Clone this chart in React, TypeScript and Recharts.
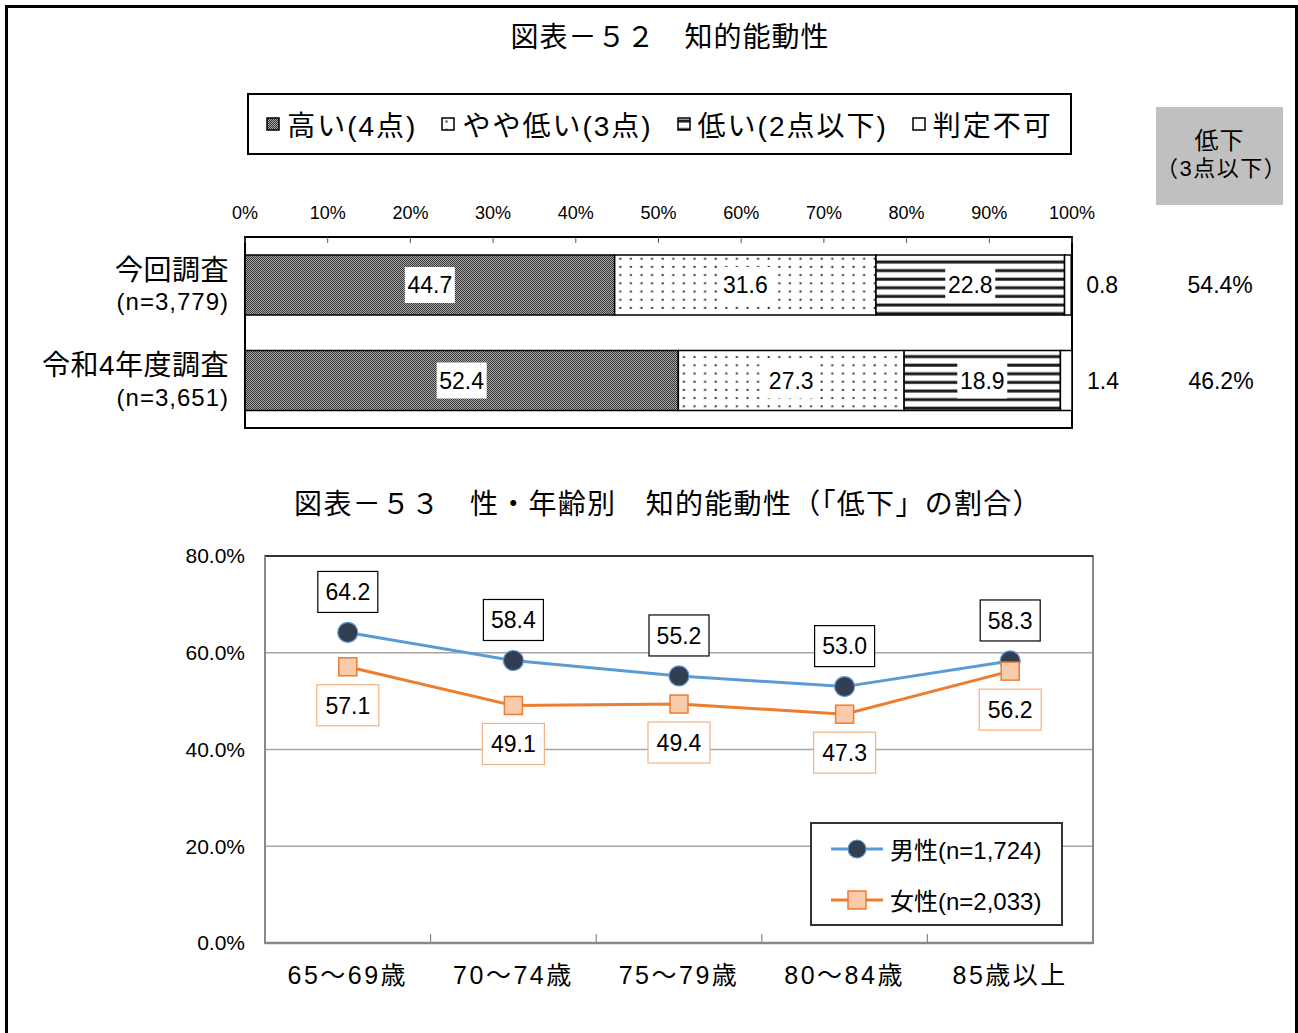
import React from 'react';
import {
  BarChart,
  Bar,
  XAxis,
  YAxis,
  LabelList,
  ReferenceArea,
  ReferenceLine,
  Legend,
  LineChart,
  Line,
  CartesianGrid,
} from 'recharts';

const FONT = "'Liberation Sans', 'Noto Sans CJK JP', sans-serif";

// ---------- Top chart data (図表－52) ----------
const surveyNames = ['今回調査', '令和4年度調査'];
const surveySizes = ['(n=3,779)', '(n=3,651)'];
const highValues = [44.7, 52.4];
const slightlyLowValues = [31.6, 27.3];
const lowValues = [22.8, 18.9];
const undeterminedValues = [0.8, 1.4];
const declineRates = [54.4, 46.2];
const percentTicks = [0, 10, 20, 30, 40, 50, 60, 70, 80, 90, 100];
const surveyLegendLabels = ['高い(4点)', 'やや低い(3点)', '低い(2点以下)', '判定不可'];
const surveyPatterns = ['url(#pat-high)', 'url(#pat-dots)', 'url(#pat-stripes)', '#ffffff'];

// ---------- Bottom chart data (図表－53) ----------
const ageGroups = ['65～69歳', '70～74歳', '75～79歳', '80～84歳', '85歳以上'];
const maleRates = [64.2, 58.4, 55.2, 53.0, 58.3];
const femaleRates = [57.1, 49.1, 49.4, 47.3, 56.2];
const rateTicks = [0, 20, 40, 60, 80];
const lineLegendLabels = ['男性(n=1,724)', '女性(n=2,033)'];

const surveyData = surveyNames.map((name, i) => ({
  name,
  high: highValues[i],
  slightlyLow: slightlyLowValues[i],
  low: lowValues[i],
  undetermined: undeterminedValues[i],
}));

const ageData = ageGroups.map((age, i) => ({
  age,
  male: maleRates[i],
  female: femaleRates[i],
}));

const MALE_LINE = '#5b9bd5';
const MALE_DOT = '#333f50';
const FEMALE_LINE = '#ed7d31';
const FEMALE_DOT = '#f8cbad';

// bottom chart layout
const LC_WIDTH = 1298;
const LC_MARGIN = { top: 96, right: 205, bottom: 40, left: 0 };
const LC_YAXIS_WIDTH = 265;
const LC_HALF_BAND = (LC_WIDTH - LC_MARGIN.right - LC_MARGIN.left - LC_YAXIS_WIDTH) / ageGroups.length / 2;

// ---------- Top chart pieces ----------
const BoxLabel = (props: any) => {
  const { x, y, width, height, value } = props;
  const cx = x + width / 2;
  const cy = y + height / 2;
  return (
    <g>
      <rect x={cx - 25} y={cy - 18} width={50} height={36} fill="#fff" />
      <text x={cx} y={cy} dy="0.36em" textAnchor="middle" fontSize={23} fill="#000">
        {Number(value).toFixed(1)}
      </text>
    </g>
  );
};

const OuterLabel = (props: any) => {
  const { x, y, width, height, value, index } = props;
  const cy = y + height / 2;
  const end = x + width;
  return (
    <g>
      <text x={end + 15} y={cy} dy="0.36em" textAnchor="start" fontSize={23} fill="#000">
        {Number(value).toFixed(1)}
      </text>
      <text x={end + 149} y={cy} dy="0.36em" textAnchor="middle" fontSize={23} fill="#000">
        {declineRates[index].toFixed(1)}%
      </text>
    </g>
  );
};

const SurveyTick = (props: any) => {
  const { x, y, payload, index } = props;
  return (
    <g>
      <text x={x} y={y - 15} dy="0.36em" textAnchor="end" fontSize={28} fill="#000" letterSpacing={0.5}>
        {payload.value}
      </text>
      <text x={x} y={y + 17} dy="0.36em" textAnchor="end" fontSize={24} fill="#000" letterSpacing={1}>
        {surveySizes[index]}
      </text>
    </g>
  );
};

const SurveyLegend = () => (
  <div
    style={{
      width: '100%',
      height: '100%',
      border: '2px solid #000',
      boxSizing: 'border-box',
      display: 'flex',
      alignItems: 'center',
      justifyContent: 'center',
      gap: 24,
      fontSize: 28,
      color: '#000',
    }}
  >
    {surveyLegendLabels.map((label, i) => (
      <div key={label} style={{ display: 'flex', alignItems: 'center' }}>
        <svg width={14} height={14} style={{ marginRight: 7 }}>
          <rect x={1} y={1} width={12} height={12} fill={surveyPatterns[i]} stroke="#000" strokeWidth={1.5} />
        </svg>
        <span style={{ letterSpacing: 2 }}>{label}</span>
      </div>
    ))}
  </div>
);

// ---------- Bottom chart pieces ----------
const MaleDot = (props: any) => {
  const { cx, cy } = props;
  return <circle cx={cx} cy={cy} r={10} fill={MALE_DOT} stroke={MALE_LINE} strokeWidth={1.2} />;
};

const FemaleDot = (props: any) => {
  const { cx, cy } = props;
  return <rect x={cx - 9} y={cy - 9} width={18} height={18} fill={FEMALE_DOT} stroke={FEMALE_LINE} strokeWidth={1.5} />;
};

const MaleLabel = (props: any) => {
  const { x, y, value } = props;
  return (
    <g>
      <rect x={x - 30} y={y - 61} width={60} height={41} fill="#fff" stroke="#000" strokeWidth={1.2} />
      <text x={x} y={y - 40.5} dy="0.36em" textAnchor="middle" fontSize={23} fill="#000">
        {Number(value).toFixed(1)}
      </text>
    </g>
  );
};

const FemaleLabel = (props: any) => {
  const { x, y, value } = props;
  return (
    <g>
      <rect x={x - 31} y={y + 18} width={62} height={41} fill="#fff" stroke="#f4b183" strokeWidth={1.2} />
      <text x={x} y={y + 38.5} dy="0.36em" textAnchor="middle" fontSize={23} fill="#000">
        {Number(value).toFixed(1)}
      </text>
    </g>
  );
};

const AgeTick = (props: any) => {
  const { x, y, payload, index } = props;
  const showBoundary = index < ageGroups.length - 1;
  return (
    <g>
      {showBoundary && (
        <line
          x1={x + LC_HALF_BAND}
          x2={x + LC_HALF_BAND}
          y1={y - 1}
          y2={y - 9}
          stroke="#888"
          strokeWidth={1.2}
        />
      )}
      <text x={x} y={y} dy={41} textAnchor="middle" fontSize={25} fill="#000" letterSpacing={2.5}>
        {payload.value}
      </text>
    </g>
  );
};

const LineLegend = () => (
  <div
    style={{
      width: '100%',
      height: '100%',
      border: '2px solid #333',
      boxSizing: 'border-box',
      background: '#fff',
      display: 'flex',
      flexDirection: 'column',
      justifyContent: 'center',
      gap: 8,
      paddingLeft: 17,
      fontSize: 24,
      color: '#000',
    }}
  >
    {lineLegendLabels.map((label, i) => (
      <div key={label} style={{ display: 'flex', alignItems: 'center', height: 43 }}>
        <svg width={56} height={22} style={{ marginRight: 5 }}>
          <line x1={2} y1={11} x2={54} y2={11} stroke={i === 0 ? MALE_LINE : FEMALE_LINE} strokeWidth={3} />
          {i === 0 ? (
            <circle cx={28} cy={11} r={9} fill={MALE_DOT} stroke={MALE_LINE} strokeWidth={1.2} />
          ) : (
            <rect x={19} y={2} width={18} height={18} fill={FEMALE_DOT} stroke={FEMALE_LINE} strokeWidth={1.5} />
          )}
        </svg>
        <span>{label}</span>
      </div>
    ))}
  </div>
);

export default function App() {
  return (
    <div
      style={{
        position: 'absolute',
        left: 0,
        top: 0,
        width: 1298,
        height: 1033,
        overflow: 'hidden',
        background: '#fff',
        fontFamily: FONT,
        color: '#000',
      }}
    >
      {/* outer frame */}
      <div
        style={{
          position: 'absolute',
          left: 5,
          top: 5,
          width: 1293,
          height: 1100,
          border: '3px solid #000',
          boxSizing: 'border-box',
        }}
      />

      {/* titles */}
      <div
        style={{
          position: 'absolute',
          left: 0,
          width: 1340,
          top: 18,
          textAlign: 'center',
          fontSize: 28,
          letterSpacing: 1,
          lineHeight: '40px',
        }}
      >
        図表－５２　知的能動性
      </div>
      <div
        style={{
          position: 'absolute',
          left: 0,
          width: 1336,
          top: 485,
          textAlign: 'center',
          fontSize: 28,
          letterSpacing: 1.3,
          lineHeight: '40px',
        }}
      >
        図表－５３　性・年齢別　知的能動性（「低下」の割合）
      </div>

      {/* gray header box */}
      <div
        style={{
          position: 'absolute',
          left: 1156,
          top: 107,
          width: 127,
          height: 98,
          background: '#c0c0c0',
          textAlign: 'center',
        }}
      >
        <div style={{ fontSize: 24, lineHeight: '28px', marginTop: 20, letterSpacing: 1 }}>低下</div>
        <div style={{ fontSize: 22, lineHeight: '28px', letterSpacing: 1.5 }}>（3点以下）</div>
      </div>

      {/* top chart */}
      <div style={{ position: 'absolute', left: 0, top: 0 }}>
        <BarChart
          width={1298}
          height={450}
          data={surveyData}
          layout="vertical"
          margin={{ top: 207, right: 226, bottom: 22, left: 0 }}
          barSize={60}
        >
          <defs>
            <pattern id="pat-high" width={2} height={2} patternUnits="userSpaceOnUse">
              <rect width={2} height={2} fill="#a8a8a8" />
              <rect x={0} y={0} width={1} height={1} fill="#353535" />
              <rect x={1} y={1} width={1} height={1} fill="#353535" />
            </pattern>
            <pattern id="pat-dots" width={10.6} height={8.2} patternUnits="userSpaceOnUse">
              <rect width={10.6} height={8.2} fill="#fff" />
              <rect x={4.5} y={3.5} width={2} height={2} fill="#333" />
            </pattern>
            <pattern id="pat-stripes" width={8.6} height={8.6} patternUnits="userSpaceOnUse">
              <rect width={8.6} height={8.6} fill="#fff" />
              <rect x={0} y={2.5} width={8.6} height={3} fill="#1a1a1a" />
            </pattern>
          </defs>
          <XAxis
            type="number"
            orientation="top"
            domain={[0, 100]}
            ticks={percentTicks}
            interval={0}
            height={30}
            axisLine={false}
            tickSize={-6}
            tickMargin={24}
            tickLine={{ stroke: '#555' }}
            tick={{ fontSize: 18, fill: '#000' }}
            tickFormatter={(v: number) => `${v}%`}
          />
          <YAxis
            type="category"
            dataKey="name"
            width={245}
            tick={<SurveyTick />}
            tickLine={false}
            axisLine={false}
            tickSize={0}
            tickMargin={16}
            interval={0}
          />
          <ReferenceArea
            x1={0}
            x2={100}
            y1={surveyNames[0]}
            y2={surveyNames[surveyNames.length - 1]}
            fill="none"
            stroke="#000"
            strokeWidth={2}
            ifOverflow="visible"
          />
          <Legend
            layout="horizontal"
            verticalAlign="middle"
            align="center"
            wrapperStyle={{ left: 247, top: 93, width: 825, height: 62 }}
            content={() => <SurveyLegend />}
          />
          <Bar dataKey="high" stackId="s" fill="url(#pat-high)" stroke="#000" strokeWidth={1.5} isAnimationActive={false}>
            <LabelList dataKey="high" content={BoxLabel} />
          </Bar>
          <Bar dataKey="slightlyLow" stackId="s" fill="url(#pat-dots)" stroke="#000" strokeWidth={1.5} isAnimationActive={false}>
            <LabelList dataKey="slightlyLow" content={BoxLabel} />
          </Bar>
          <Bar dataKey="low" stackId="s" fill="url(#pat-stripes)" stroke="#000" strokeWidth={1.5} isAnimationActive={false}>
            <LabelList dataKey="low" content={BoxLabel} />
          </Bar>
          <Bar dataKey="undetermined" stackId="s" fill="#fff" stroke="#000" strokeWidth={1.5} isAnimationActive={false}>
            <LabelList dataKey="undetermined" content={OuterLabel} />
          </Bar>
        </BarChart>
      </div>

      {/* bottom chart */}
      <div style={{ position: 'absolute', left: 0, top: 460 }}>
        <LineChart width={LC_WIDTH} height={573} data={ageData} margin={LC_MARGIN}>
          <CartesianGrid vertical={false} stroke="#a6a6a6" strokeWidth={1.5} />
          <XAxis
            dataKey="age"
            scale="band"
            height={50}
            axisLine={{ stroke: '#888', strokeWidth: 2.5 }}
            tickLine={false}
            tickSize={0}
            tickMargin={0}
            tick={<AgeTick />}
            interval={0}
          />
          <YAxis
            domain={[0, 80]}
            ticks={rateTicks}
            interval={0}
            width={LC_YAXIS_WIDTH}
            axisLine={{ stroke: '#888', strokeWidth: 2 }}
            tickLine={false}
            tickSize={0}
            tickMargin={20}
            tick={{ fontSize: 21, fill: '#000' }}
            tickFormatter={(v: number) => `${v.toFixed(1)}%`}
          />
          <ReferenceArea
            x1={ageGroups[0]}
            x2={ageGroups[ageGroups.length - 1]}
            y1={0}
            y2={80}
            fill="none"
            stroke="#888"
            strokeWidth={2}
            ifOverflow="visible"
          />
          <ReferenceLine y={80} stroke="#333" strokeWidth={2} />
          <Legend
            layout="horizontal"
            verticalAlign="middle"
            align="center"
            wrapperStyle={{ left: 810, top: 362, width: 253, height: 104 }}
            content={() => <LineLegend />}
          />
          <Line dataKey="male" stroke={MALE_LINE} strokeWidth={3} dot={<MaleDot />} isAnimationActive={false}>
            <LabelList dataKey="male" content={MaleLabel} />
          </Line>
          <Line dataKey="female" stroke={FEMALE_LINE} strokeWidth={3} dot={<FemaleDot />} isAnimationActive={false}>
            <LabelList dataKey="female" content={FemaleLabel} />
          </Line>
        </LineChart>
      </div>
    </div>
  );
}
